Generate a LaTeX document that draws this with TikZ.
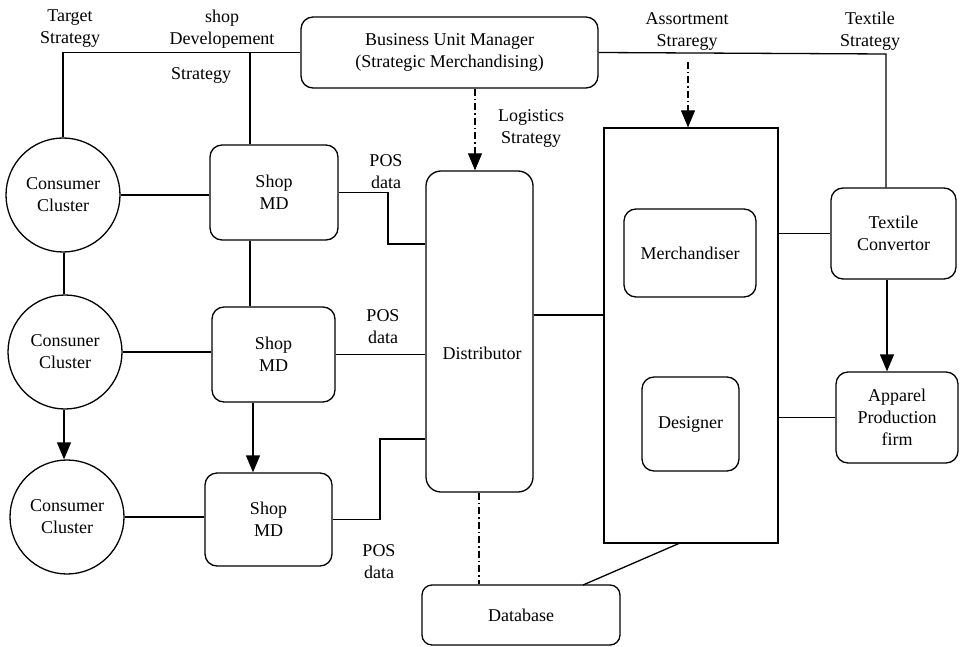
\documentclass[tikz,border=0pt]{standalone}
\usepackage{fontspec}
\setmainfont{Liberation Serif}
\usetikzlibrary{arrows.meta}
\begin{document}
\begin{tikzpicture}[x=1pt,y=-1pt,
  every node/.style={font=\fontsize{18}{22}\selectfont, align=center, inner sep=0pt},
  rbox/.style={draw, line width=1.3pt, rounded corners=12pt},
  sbox/.style={draw, line width=1.3pt},
  cc/.style={draw, circle, line width=1.3pt, minimum size=114pt},
  conn/.style={line width=1.3pt},
  flow/.style={line width=1.3pt, -{Triangle[length=17pt,width=14pt]}},
  dashdot line/.style={line width=1.1pt, dash pattern=on 7pt off 3pt on 1.5pt off 3pt}]
\useasboundingbox (0,0) rectangle (960,647);

% management box
\node[rbox, minimum width=297pt, minimum height=71pt] (bum) at (449.5,52.5)
  {Business Unit Manager\\(Strategic Merchandising)};

% consumer clusters
\node[cc] (cc1) at (63,195) {Consumer\\Cluster};
\node[cc] (cc2) at (65,352) {Consuner\\Cluster};
\node[cc] (cc3) at (67,517) {Consumer\\Cluster};

% shop merchandisers
\node[rbox, minimum width=128pt, minimum height=95pt] (shop1) at (274,192.5) {Shop\\MD};
\node[rbox, minimum width=123pt, minimum height=95pt] (shop2) at (273.5,354.5) {Shop\\MD};
\node[rbox, minimum width=127pt, minimum height=93pt] (shop3) at (268.5,519.5) {Shop\\MD};

% distributor
\node[rbox, rounded corners=15pt, minimum width=107pt, minimum height=321pt] (dist) at (479.5,331.5) {};
\node (distlbl) at (482,353) {Distributor};

% assortment group
\node[sbox, minimum width=174pt, minimum height=415pt] (big) at (691,335.5) {};
\node[rbox, minimum width=132pt, minimum height=88pt] (merch) at (690,253) {Merchandiser};
\node[rbox, minimum width=97pt, minimum height=94pt] (des) at (690.5,424) {Designer};

% suppliers
\node[rbox, minimum width=125pt, minimum height=91pt] (tc) at (893.5,233.5) {Textile\\Convertor};
\node[rbox, minimum width=122pt, minimum height=91pt] (app) at (897,417.5) {Apparel\\Production\\firm};

% database
\node[rbox, rounded corners=10pt, minimum width=198pt, minimum height=60pt] (db) at (521,615) {Database};

% strategy labels
\node (ltarget) at (70,28.5) {Target\\Strategy};
\node (lshop) at (222,29) {shop\\Developement};
\node (lshop2) at (201,75) {Strategy};
\node (lassort) at (687,31.5) {Assortment\\Straregy};
\node (ltextile) at (870,31.5) {Textile\\Strategy};
\node (llog) at (531,128.5) {Logistics\\Strategy};
\node (lpos1) at (386,172) {POS\\data};
\node (lpos2) at (383,327) {POS\\data};
\node (lpos3) at (379,561.5) {POS\\data};

% helper points for bends
\coordinate (xcc) at (64,0);
\coordinate (xshop) at (250,100);
\coordinate (xtex) at (886,54);
\coordinate (xlog) at (475,100);
\coordinate (asst) at (688,62);
\coordinate (pos1) at (388,244);
\coordinate (pos3) at (380,439);
\coordinate (ydist) at (0,315);
\coordinate (xdb) at (479,0);
\coordinate (dbtop) at (583,585);
\coordinate (bigbot) at (680,543);
\coordinate (xtc) at (887,0);

% strategy lines from the manager
\draw[conn] (cc1.north) |- (bum.west);
\draw[conn] (shop1.north -| xshop) -- (xshop |- bum.west);
\draw[conn] (bum.east) -- (xtex) -- (xtex |- tc.north);
\draw[dashdot line, -{Triangle[length=17pt,width=14pt]}] (bum.south -| xlog) -- (dist.north -| xlog);
\draw[dashdot line, -{Triangle[length=17pt,width=14pt]}] (asst) -- (big.north -| asst);

% consumer clusters and shops
\draw[conn] (cc1.south -| xcc) -- (cc2.north -| xcc);
\draw[flow] (cc2.south -| xcc) -- (cc3.north -| xcc);
\draw[conn] (cc1.east) -- (cc1.east -| shop1.west);
\draw[conn] (cc2.east) -- (cc2.east -| shop2.west);
\draw[conn] (cc3.east) -- (cc3.east -| shop3.west);
\draw[conn] (shop1.south -| xshop) -- (shop2.north -| xshop);
\draw[flow] ([xshift=3pt]shop2.south -| xshop) -- ([xshift=3pt]shop3.north -| xshop);

% POS data to the distributor
\draw[conn] (shop1.east) -| (pos1) -- (pos1 -| dist.west);
\draw[conn] (shop2.east) -- (shop2.east -| dist.west);
\draw[conn] (shop3.east) -| (pos3) -- (pos3 -| dist.west);

% distributor, assortment, suppliers
\draw[conn] (dist.east |- ydist) -- (big.west |- ydist);
\draw[conn] (big.east |- tc.west) -- (tc.west);
\draw[conn] (big.east |- app.west) -- (app.west);
\draw[flow] (tc.south -| xtc) -- (app.north -| xtc);

% database links
\draw[dashdot line] (dist.south -| xdb) -- (db.north -| xdb);
\draw[conn] (dbtop) -- (bigbot);
\end{tikzpicture}
\end{document}
